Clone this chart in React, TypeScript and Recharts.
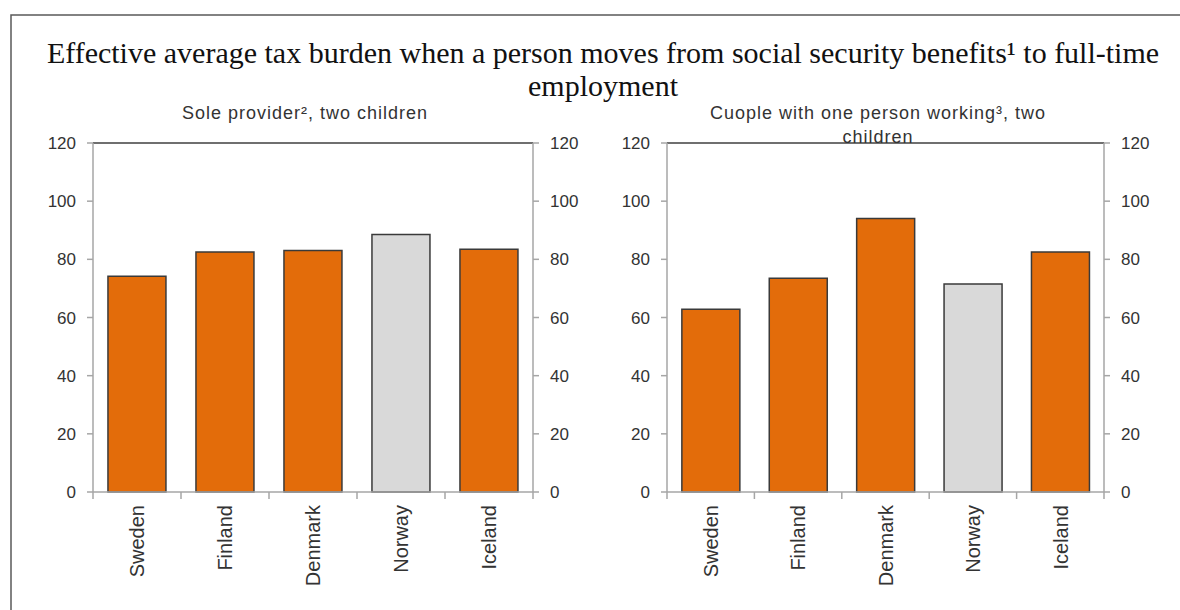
import React from 'react';
import { BarChart, Bar, XAxis, YAxis, Cell, ReferenceLine } from 'recharts';

// Nordic countries compared in both panels
const countries = ['Sweden', 'Finland', 'Denmark', 'Norway', 'Iceland'];
// Effective average tax burden (%), sole provider with two children
const soleProvider = [74.2, 82.5, 83, 88.5, 83.5];
// Effective average tax burden (%), couple with one earner and two children
const couple = [62.8, 73.5, 94, 71.5, 82.5];
// Country shown in grey
const highlighted = 'Norway';
// Value axis ticks
const valueTicks = [0, 20, 40, 60, 80, 100, 120];

const ORANGE = '#E36C0A';
const GREY = '#D9D9D9';
const AXIS = '#A6A6A6';
const TEXT = '#333333';
const SANS = '"Liberation Sans", Arial, sans-serif';
const SERIF = '"Liberation Serif", "Times New Roman", serif';

// Rotated country label plus the tick marks at the category boundaries
const CountryTick = (props: any) => {
  const { x, y, payload, index, width, visibleTicksCount } = props;
  const band = Number(width) / Number(visibleTicksCount);
  const half = Number.isFinite(band) ? band / 2 : 0;
  const isLast = index === visibleTicksCount - 1;
  return (
    <g>
      {half > 0 && (
        <line x1={x - half} y1={y} x2={x - half} y2={y + 7} stroke={AXIS} strokeWidth={1.5} />
      )}
      {half > 0 && isLast && (
        <line x1={x + half} y1={y} x2={x + half} y2={y + 7} stroke={AXIS} strokeWidth={1.5} />
      )}
      <g transform={`translate(${x},${y})`}>
        <text
          transform="rotate(-90)"
          x={-13}
          y={0}
          dy="0.36em"
          textAnchor="end"
          fontFamily={SANS}
          fontSize={20}
          fill={TEXT}
        >
          {payload.value}
        </text>
      </g>
    </g>
  );
};

type PanelProps = {
  values: number[];
  left: number;
  width: number;
  leftAxisWidth: number;
  rightAxisWidth: number;
  marginRight: number;
};

const Panel = ({ values, left, width, leftAxisWidth, rightAxisWidth, marginRight }: PanelProps) => {
  const data = countries.map((country, i) => ({ country, value: values[i] }));
  const tickStyle = { fontFamily: SANS, fontSize: 17, fill: TEXT };
  return (
    <div style={{ position: 'absolute', left, top: 0 }}>
      <BarChart
        width={width}
        height={610}
        data={data}
        margin={{ top: 143, right: marginRight, bottom: 8, left: 0 }}
        barCategoryGap="17%"
      >
        <XAxis
          xAxisId="cat"
          dataKey="country"
          height={110}
          axisLine={{ stroke: AXIS, strokeWidth: 1.5 }}
          tickLine={false}
          tickSize={0}
          tickMargin={0}
          interval={0}
          tick={<CountryTick />}
        />
        <YAxis
          yAxisId="left"
          orientation="left"
          width={leftAxisWidth}
          domain={[0, 120]}
          ticks={valueTicks}
          interval={0}
          axisLine={{ stroke: AXIS, strokeWidth: 1.5 }}
          tickLine={{ stroke: AXIS, strokeWidth: 1.5 }}
          tickSize={6}
          tickMargin={11}
          tick={tickStyle}
        />
        <YAxis
          yAxisId="right"
          orientation="right"
          width={rightAxisWidth}
          domain={[0, 120]}
          allowDataOverflow
          ticks={valueTicks}
          interval={0}
          axisLine={{ stroke: AXIS, strokeWidth: 1.5 }}
          tickLine={{ stroke: AXIS, strokeWidth: 1.5 }}
          tickSize={6}
          tickMargin={11}
          tick={tickStyle}
        />
        <ReferenceLine xAxisId="cat" yAxisId="left" y={120} stroke="#6F6F6F" strokeWidth={2} />
        <Bar
          xAxisId="cat"
          yAxisId="left"
          dataKey="value"
          stroke="#3A3A3A"
          strokeWidth={1.5}
          isAnimationActive={false}
        >
          {data.map((d) => (
            <Cell key={d.country} fill={d.country === highlighted ? GREY : ORANGE} />
          ))}
        </Bar>
      </BarChart>
    </div>
  );
};

export default function App() {
  return (
    <div
      style={{
        position: 'absolute',
        left: 0,
        top: 0,
        width: 1180,
        height: 610,
        background: '#fff',
        overflow: 'hidden',
      }}
    >
      <Panel values={soleProvider} left={0} width={590} leftAxisWidth={93} rightAxisWidth={50} marginRight={7} />
      <Panel values={couple} left={590} width={590} leftAxisWidth={77} rightAxisWidth={50} marginRight={26} />
      <svg
        width={1180}
        height={610}
        style={{ position: 'absolute', left: 0, top: 0, pointerEvents: 'none' }}
      >
        <path d="M11,610 V15 H1180" fill="none" stroke="#5A5A5A" strokeWidth={1.5} />
        <text x={603} y={63} textAnchor="middle" fontFamily={SERIF} fontSize={30} fill="#111">
          Effective average tax burden when a person moves from social security benefits¹ to full-time
        </text>
        <text x={603} y={96} textAnchor="middle" fontFamily={SERIF} fontSize={30} fill="#111">
          employment
        </text>
        <text x={305} y={119} textAnchor="middle" fontFamily={SANS} fontSize={18} letterSpacing={1} fill={TEXT}>
          Sole provider², two children
        </text>
        <text x={878} y={119} textAnchor="middle" fontFamily={SANS} fontSize={18} letterSpacing={1} fill={TEXT}>
          Cuople with one person working³, two
        </text>
        <text x={878} y={143} textAnchor="middle" fontFamily={SANS} fontSize={18} letterSpacing={1} fill={TEXT}>
          children
        </text>
      </svg>
    </div>
  );
}
